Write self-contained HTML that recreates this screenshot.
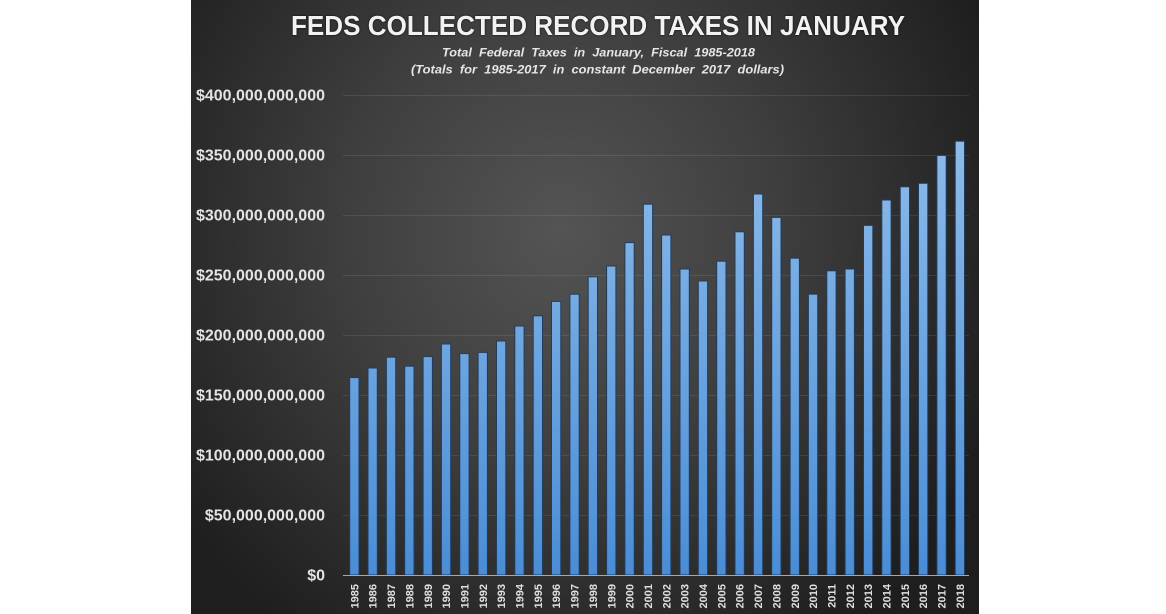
<!DOCTYPE html>
<html><head><meta charset="utf-8"><style>
html,body{margin:0;padding:0;background:#fff;width:1166px;height:614px;overflow:hidden}
svg{display:block}
</style></head><body>
<svg width="1166" height="614" viewBox="0 0 1166 614" xmlns="http://www.w3.org/2000/svg">
<defs>
<radialGradient id="bg" cx="560" cy="230" r="470" gradientUnits="userSpaceOnUse" gradientTransform="translate(560 230) scale(1 1.05) translate(-560 -230)">
<stop offset="0" stop-color="#545454"/>
<stop offset="0.45" stop-color="#3f3f3f"/>
<stop offset="0.8" stop-color="#2a2a2a"/>
<stop offset="1" stop-color="#1e1e1e"/>
</radialGradient>
<linearGradient id="bar" x1="0" y1="140" x2="0" y2="575" gradientUnits="userSpaceOnUse">
<stop offset="0" stop-color="#8dbbe8"/>
<stop offset="1" stop-color="#4a8dd6"/>
</linearGradient>
</defs>
<rect x="191" y="0" width="788" height="614" fill="url(#bg)"/>

<!-- title -->
<text x="598" y="35" text-anchor="middle" font-family="Liberation Sans, sans-serif" font-weight="bold" font-size="28" fill="#f2f2f2" textLength="614" lengthAdjust="spacingAndGlyphs" style="text-shadow:0 0 2px #000">FEDS COLLECTED RECORD TAXES IN JANUARY</text>
<text x="598.5" y="56.5" text-anchor="middle" font-family="Liberation Sans, sans-serif" font-weight="bold" font-style="italic" font-size="12" fill="#e6e6e6" textLength="313" lengthAdjust="spacingAndGlyphs" style="white-space:pre">Total  Federal  Taxes  in  January,  Fiscal  1985-2018</text>
<text x="597.5" y="73.5" text-anchor="middle" font-family="Liberation Sans, sans-serif" font-weight="bold" font-style="italic" font-size="12" fill="#e6e6e6" textLength="373" lengthAdjust="spacingAndGlyphs" style="white-space:pre">(Totals  for  1985-2017  in  constant  December  2017  dollars)</text>

<!-- gridlines -->
<g stroke="#ffffff" stroke-opacity="0.09" stroke-width="1">
<line x1="343" y1="95.5" x2="969" y2="95.5"/>
<line x1="343" y1="155.5" x2="969" y2="155.5"/>
<line x1="343" y1="215.5" x2="969" y2="215.5"/>
<line x1="343" y1="275.5" x2="969" y2="275.5"/>
<line x1="343" y1="335.5" x2="969" y2="335.5"/>
<line x1="343" y1="395.5" x2="969" y2="395.5"/>
<line x1="343" y1="455.5" x2="969" y2="455.5"/>
<line x1="343" y1="515.5" x2="969" y2="515.5"/>
</g>

<!-- y labels -->
<g font-family="Liberation Sans, sans-serif" font-weight="bold" font-size="16" fill="#e4e4e4" text-anchor="end">
<text x="325" y="100.5">$400,000,000,000</text>
<text x="325" y="160.5">$350,000,000,000</text>
<text x="325" y="220.5">$300,000,000,000</text>
<text x="325" y="280.5">$250,000,000,000</text>
<text x="325" y="340.5">$200,000,000,000</text>
<text x="325" y="400.5">$150,000,000,000</text>
<text x="325" y="460.5">$100,000,000,000</text>
<text x="325" y="520.5">$50,000,000,000</text>
<text x="325" y="580.5">$0</text>
</g>

<!-- bars -->
<g fill="url(#bar)" stroke="#1f3d5e" stroke-width="1">
<rect x="349.7" y="377.6" width="9.3" height="197.4"/>
<rect x="368.0" y="368.0" width="9.3" height="207.0"/>
<rect x="386.4" y="357.2" width="9.3" height="217.8"/>
<rect x="404.7" y="366.2" width="9.3" height="208.8"/>
<rect x="423.1" y="356.6" width="9.3" height="218.4"/>
<rect x="441.4" y="344.0" width="9.3" height="231.0"/>
<rect x="459.8" y="353.6" width="9.3" height="221.4"/>
<rect x="478.1" y="352.4" width="9.3" height="222.6"/>
<rect x="496.5" y="341.0" width="9.3" height="234.0"/>
<rect x="514.8" y="326.0" width="9.3" height="249.0"/>
<rect x="533.2" y="315.8" width="9.3" height="259.2"/>
<rect x="551.5" y="301.4" width="9.3" height="273.6"/>
<rect x="569.9" y="294.2" width="9.3" height="280.8"/>
<rect x="588.2" y="276.8" width="9.3" height="298.2"/>
<rect x="606.6" y="266.0" width="9.3" height="309.0"/>
<rect x="624.9" y="242.6" width="9.3" height="332.4"/>
<rect x="643.3" y="204.2" width="9.3" height="370.8"/>
<rect x="661.6" y="235.0" width="9.3" height="340.0"/>
<rect x="680.0" y="269.0" width="9.3" height="306.0"/>
<rect x="698.3" y="281.0" width="9.3" height="294.0"/>
<rect x="716.7" y="261.2" width="9.3" height="313.8"/>
<rect x="735.0" y="231.8" width="9.3" height="343.2"/>
<rect x="753.4" y="194.0" width="9.3" height="381.0"/>
<rect x="771.7" y="217.4" width="9.3" height="357.6"/>
<rect x="790.1" y="258.2" width="9.3" height="316.8"/>
<rect x="808.4" y="294.2" width="9.3" height="280.8"/>
<rect x="826.8" y="270.8" width="9.3" height="304.2"/>
<rect x="845.1" y="269.0" width="9.3" height="306.0"/>
<rect x="863.5" y="225.4" width="9.3" height="349.6"/>
<rect x="881.8" y="200.0" width="9.3" height="375.0"/>
<rect x="900.2" y="186.8" width="9.3" height="388.2"/>
<rect x="918.5" y="183.3" width="9.3" height="391.7"/>
<rect x="936.9" y="155.4" width="9.3" height="419.6"/>
<rect x="955.2" y="141.2" width="9.3" height="433.8"/>
</g>

<!-- axis -->
<line x1="343" y1="575.5" x2="969" y2="575.5" stroke="#a8a8a8" stroke-width="1"/>

<!-- x labels -->
<g font-family="Liberation Sans, sans-serif" font-weight="bold" font-size="11" fill="#e0e0e0" text-anchor="end">
<text transform="translate(358.4 584) rotate(-90)">1985</text>
<text transform="translate(376.7 584) rotate(-90)">1986</text>
<text transform="translate(395.1 584) rotate(-90)">1987</text>
<text transform="translate(413.4 584) rotate(-90)">1988</text>
<text transform="translate(431.8 584) rotate(-90)">1989</text>
<text transform="translate(450.1 584) rotate(-90)">1990</text>
<text transform="translate(468.5 584) rotate(-90)">1991</text>
<text transform="translate(486.8 584) rotate(-90)">1992</text>
<text transform="translate(505.2 584) rotate(-90)">1993</text>
<text transform="translate(523.5 584) rotate(-90)">1994</text>
<text transform="translate(541.9 584) rotate(-90)">1995</text>
<text transform="translate(560.2 584) rotate(-90)">1996</text>
<text transform="translate(578.6 584) rotate(-90)">1997</text>
<text transform="translate(596.9 584) rotate(-90)">1998</text>
<text transform="translate(615.3 584) rotate(-90)">1999</text>
<text transform="translate(633.6 584) rotate(-90)">2000</text>
<text transform="translate(652.0 584) rotate(-90)">2001</text>
<text transform="translate(670.3 584) rotate(-90)">2002</text>
<text transform="translate(688.7 584) rotate(-90)">2003</text>
<text transform="translate(707.0 584) rotate(-90)">2004</text>
<text transform="translate(725.4 584) rotate(-90)">2005</text>
<text transform="translate(743.7 584) rotate(-90)">2006</text>
<text transform="translate(762.1 584) rotate(-90)">2007</text>
<text transform="translate(780.4 584) rotate(-90)">2008</text>
<text transform="translate(798.8 584) rotate(-90)">2009</text>
<text transform="translate(817.1 584) rotate(-90)">2010</text>
<text transform="translate(835.5 584) rotate(-90)">2011</text>
<text transform="translate(853.8 584) rotate(-90)">2012</text>
<text transform="translate(872.2 584) rotate(-90)">2013</text>
<text transform="translate(890.5 584) rotate(-90)">2014</text>
<text transform="translate(908.9 584) rotate(-90)">2015</text>
<text transform="translate(927.2 584) rotate(-90)">2016</text>
<text transform="translate(945.6 584) rotate(-90)">2017</text>
<text transform="translate(963.9 584) rotate(-90)">2018</text>
</g>
</svg>
</body></html>
